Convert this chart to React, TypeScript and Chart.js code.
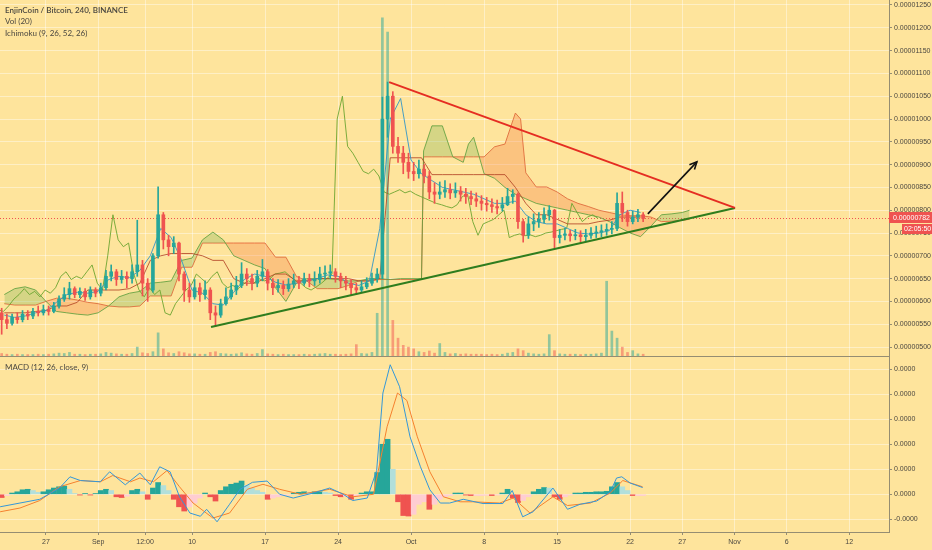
import React, { useEffect, useRef } from 'react';
import { Chart, registerables } from 'chart.js';

Chart.register(...registerables);

// ---------------- data (prices in units of 1e-8 BTC, x in days from Aug 27) ----------------
const candleStartDay = -4.25;
const candleStepDays = 0.5;
const firstOpen = 575;

const closes = [
  560, 552, 565, 560, 572, 568, 578, 575, 582, 578,
  590, 605, 615, 628, 615, 622, 610, 625, 618, 630,
  655, 665, 648, 655, 650, 665, 680, 640, 625, 700,
  790, 735, 720, 728, 660, 625, 610, 630, 615, 625,
  575, 570, 595, 610, 625, 635, 660, 650, 640, 655,
  665, 640, 630, 635, 628, 638, 645, 640, 650, 645,
  648, 660, 662, 665, 655, 645, 640, 630, 625, 632,
  640, 650, 660, 1000, 1050, 940, 925, 905, 885, 880,
  890, 875, 840, 835, 840, 845, 838, 842, 835, 830,
  825, 820, 815, 812, 808, 805, 812, 830, 835, 775,
  745, 770, 775, 780, 790, 800, 740, 745, 748, 744,
  746, 742, 745, 750, 752, 755, 758, 760, 815, 795,
  775, 785, 790, 782,
];

const highs = [
  585, 572, 572, 575, 580, 580, 585, 590, 592, 590,
  598, 612, 630, 642, 632, 630, 628, 632, 630, 640,
  668, 680, 670, 668, 665, 680, 778, 690, 650, 705,
  851, 795, 745, 742, 730, 665, 640, 648, 640, 645,
  630, 590, 605, 630, 640, 655, 685, 672, 660, 668,
  692, 670, 650, 648, 645, 650, 660, 655, 662, 660,
  665, 675, 678, 680, 672, 662, 655, 648, 640, 645,
  652, 662, 672, 1048, 1081, 1060, 960, 940, 925, 905,
  910, 900, 885, 860, 862, 865, 858, 860, 852, 848,
  842, 838, 832, 828, 825, 822, 828, 848, 845, 838,
  780, 785, 792, 795, 805, 810, 802, 758, 760, 756,
  758, 755, 758, 762, 765, 768, 770, 775, 838, 840,
  800, 798, 802, 795,
];

const lows = [
  528, 540, 548, 552, 555, 560, 562, 568, 570, 570,
  575, 585, 600, 605, 608, 608, 602, 605, 610, 612,
  625, 645, 635, 640, 630, 640, 655, 612, 600, 620,
  695, 715, 700, 705, 645, 600, 598, 605, 600, 605,
  560, 545, 565, 592, 605, 615, 630, 635, 625, 632,
  645, 625, 615, 620, 615, 622, 630, 628, 635, 632,
  635, 640, 648, 650, 642, 630, 625, 614, 615, 620,
  628, 635, 642, 650, 960, 925, 905, 880, 870, 865,
  870, 860, 825, 815, 825, 828, 825, 828, 820, 815,
  812, 808, 800, 798, 795, 792, 798, 810, 815, 760,
  730, 738, 755, 762, 772, 778, 717, 728, 735, 732,
  735, 730, 733, 738, 740, 742, 745, 748, 755, 775,
  765, 770, 775, 775,
];

// volume, relative units (100 = full height of the price pane)
const volumes = [
  0.7, 0.5, 0.4, 0.5, 0.4, 0.4, 0.4, 0.5, 0.4, 0.5,
  0.6, 0.8, 0.7, 1.0, 0.5, 0.5, 0.4, 0.5, 0.5, 0.6,
  1.0, 0.8, 0.6, 0.5, 0.5, 0.7, 2.5, 0.9, 0.7, 1.2,
  6.5, 2.0, 0.9, 0.7, 1.2, 0.9, 0.6, 0.6, 0.5, 0.5,
  1.0, 1.2, 0.7, 0.6, 0.5, 0.6, 0.9, 0.6, 0.5, 0.7,
  1.8, 0.6, 0.5, 0.4, 0.5, 0.4, 0.4, 0.4, 0.5, 0.4,
  0.5, 0.6, 0.7, 0.5, 0.5, 0.4, 0.5, 0.6, 3.2, 0.7,
  0.6, 1.0, 12, 95, 91, 10, 5, 3, 2.5, 2,
  1.2, 1.0, 1.4, 0.8, 3.5, 1.0, 0.6, 0.7, 0.5, 0.6,
  0.5, 0.5, 0.5, 0.4, 0.5, 0.4, 0.5, 0.8, 1.0, 2.0,
  1.5, 0.8, 0.6, 0.5, 0.6, 6.0, 1.5, 0.6, 0.5, 0.5,
  0.5, 0.4, 0.5, 0.5, 0.6, 0.8, 21, 7, 5, 2.5,
  1.0, 1.5, 0.6, 0.5,
];

// MACD histogram, one value per candle (units of 1e-8)
const macdHist = [
  -0.13, -0.05, 0.05, 0.1, 0.18, 0.2, 0.15, 0.08, 0.1, 0.18,
  0.25, 0.3, 0.33, 0.2, 0.03, -0.03, 0.03, -0.03, 0.03, 0.15,
  0.2, 0.15, -0.1, -0.13, -0.08, 0.15, 0.2, 0.1, -0.2, 0.25,
  0.47, 0.35, 0.15, -0.2, -0.5, -0.67, -0.5, -0.35, -0.15, 0.05,
  -0.1, -0.27, 0.15, 0.3, 0.4, 0.45, 0.53, 0.35, 0.25, 0.15,
  0.08, -0.2, -0.15, -0.1, -0.05, -0.03, 0.05, 0.08, 0.1, 0.08,
  0.1, 0.1, 0.08, 0.05, -0.05, -0.1, -0.08, -0.2, -0.1, 0.05,
  0.1, 0.1, 0.87, 2.0, 2.2, 1.0, -0.3, -0.85, -0.87, -0.8,
  -0.4, -0.3, -0.6, -0.4, -0.2, -0.1, -0.05, 0.05, 0.05, -0.03,
  -0.05, -0.05, -0.05, -0.04, -0.05, -0.03, 0.05, 0.2, -0.15, -0.33,
  -0.25, -0.1, 0.1, 0.2, 0.27, 0.25, -0.1, -0.2, -0.1, -0.03,
  0.05, 0.05, 0.08, 0.08, 0.1, 0.1, 0.12, 0.3, 0.47, 0.3,
  0.15, -0.05, -0.05, -0.05,
];

// Ichimoku conversion / base lines, daily readings
const lineDays = [
  -4, -3, -2, -1, 0, 1, 2, 3, 4, 5, 6, 7, 8, 9, 10, 11, 12, 13, 14, 15, 16, 17, 18, 19, 20,
  21, 22, 23, 24, 25, 26, 27, 28, 29, 30, 31, 32, 33, 34, 35, 36, 37, 38, 39, 40,
  41, 42, 43, 44, 45, 46, 47, 48, 49, 50, 51, 52, 53, 54, 55, 56, 57,
];
const tenkan = [
  570, 565, 568, 575, 580, 598, 615, 620, 618, 622, 648, 655, 652, 668, 700, 760, 740, 690, 625, 618, 595, 592, 620, 648, 660,
  655, 642, 636, 640, 645, 650, 658, 655, 640, 635, 645, 760, 1000, 1045, 910, 880, 865, 850, 845, 840,
  835, 825, 815, 815, 820, 790, 775, 770, 770, 760, 750, 748, 750, 755, 790, 800, 795,
];
const kijun = [
  575, 575, 575, 578, 580, 590, 590, 598, 625, 625, 625, 625, 628, 640, 690, 700, 705, 705, 705, 700, 690, 690, 650, 640, 640,
  650, 660, 660, 645, 645, 650, 650, 650, 650, 645, 645, 650, 915, 915, 915, 915, 878, 878, 878, 878,
  878, 878, 878, 878, 850, 815, 790, 790, 780, 770, 770, 770, 775, 778, 785, 785, 785,
];

// Ichimoku cloud (leading spans, already displaced forward)
const cloudDays = [
  -4, -3, -2, -1, 0, 1, 2, 3, 4, 5, 6, 7, 8, 9, 10, 11, 12, 13, 14, 15, 16, 17, 18, 19, 20,
  21, 22, 23, 24, 25, 26, 27, 28, 29, 30, 31, 32, 33, 34, 35, 36,
  36.2, 37, 38, 39, 40, 40.5, 41, 42, 43, 44, 45, 45.5,
  46, 47, 48, 49, 50, 51, 52, 53, 54, 55, 56, 57, 58, 59, 60, 61, 61.7,
];
const spanA = [
  615, 628, 632, 625, 600, 578, 575, 572, 570, 575, 590, 610, 618, 622, 640, 642, 645, 690, 695, 735, 752, 735, 700, 690, 680,
  672, 630, 600, 640, 650, 650, 650, 648, 645, 645, 650, 650, 648, 650, 650, 650,
  930, 985, 985, 917, 905, 945, 960, 880, 870, 850, 835, 830,
  825, 815, 810, 805, 800, 795, 790, 785, 775, 762, 750, 742, 765, 790, 792, 795, 800,
];
const spanB = [
  595, 592, 592, 592, 600, 607, 607, 603, 598, 595, 590, 588, 588, 590, 612, 612, 612, 675, 675, 728, 728, 728, 728, 728, 728,
  728, 697, 697, 655, 645, 628, 628, 628, 635, 645, 645, 648, 648, 648, 648, 648,
  917, 917, 917, 917, 917, 917, 917, 917, 939, 945, 1013, 1000,
  882, 851, 851, 840, 825, 815, 808, 800, 795, 790, 788, 788, 785, 775, 776, 778, 780,
];

// MACD and signal line readings
const macdDays = [
  -4.4, -2.5, -0.6, 1.3, 2.3, 3.3, 5.2, 6.1, 7.6, 9.0, 10.0, 10.9, 11.9, 12.8, 13.8, 14.8, 15.4, 16.4, 17.6, 18.6,
  19.8, 21.2, 22.4, 23.7, 25.6, 27.2, 28.5, 29.4, 30.8, 31.7, 32.3, 33.0, 33.9, 34.9, 35.9, 36.8, 37.8, 38.7, 40.0,
  41.9, 43.8, 44.7, 45.7, 46.7, 48.6, 50.0, 51.2, 52.8, 54.1, 54.7, 55.2, 56.0, 57.2,
];
const macdLine = [
  -0.5, -0.35, -0.2, 0.25, 0.7, 0.55, 0.5, 0.9, 0.38, 0.85, 0.38, 1.1, 0.9, -0.1, -0.75, -0.88, -0.6, -1.1, -0.4, 0.2,
  0.48, 0.53, 0, -0.15, 0.05, 0.25, 0, -0.25, -0.15, 0.95, 4.05, 5.18, 4.3, 2.3, 1.1, 0.18, -0.35, -0.35, -0.2,
  -0.37, -0.37, 0.15, -0.9, -0.7, 0.25, -0.6, -0.4, -0.27, 0.1, 0.65, 0.7, 0.45, 0.27,
];
const signalDays = [
  -4.4, -2.5, -0.6, 1.3, 3.3, 5.2, 6.4, 8.1, 9.0, 10.3, 11.6, 12.8, 14.1, 16.0, 17.6, 19.3, 20.8, 22.4, 24.4, 27.2,
  29.4, 31.4, 32.7, 33.7, 34.6, 35.6, 36.8, 38.1, 39.7, 40.9, 43.5, 44.8, 46.4, 48.6, 50.0, 52.2, 54.1, 55.3, 57.2,
];
const signalLine = [
  -0.7, -0.55, -0.25, 0.3, 0.55, 0.5, 0.75, 0.5, 0.65, 0.5, 0.95, 0.3, -0.35, -0.95, -0.75, 0.2, 0.4, 0.2, 0, 0.2,
  -0.1, 0, 2.7, 4.05, 3.75, 2.3, 0.9, -0.1, -0.3, -0.3, -0.35, -0.15, -0.75, -0.1, -0.45, -0.35, 0.05, 0.55, 0.3,
];

// drawn trend lines (day, price)
const supportDays = [15.82, 66.06];
const supportPrices = [544, 805];
const resistanceDays = [32.9, 66.06];
const resistancePrices = [1081, 805];
const arrowDays = [57.7, 62.4];
const arrowPrices = [792, 906];

// axes
const xTickDays = [0, 5, 9.5, 14, 21, 28, 35, 42, 49, 56, 61, 66, 71, 77];
const xTickLabels = ['27', 'Sep', '12:00', '10', '17', '24', 'Oct', '8', '15', '22', '27', 'Nov', '6', '12'];
const priceTicks = [500, 550, 600, 650, 700, 750, 800, 850, 900, 950, 1000, 1050, 1100, 1150, 1200, 1250];
const macdTicks = [-1, 0, 1, 2, 3, 4, 5];
const macdTickLabels = ['-0.0000', '0.0000', '0.0000', '0.0000', '0.0000', '0.0000', '0.0000'];

const lastPrice = 782;
const countdown = '02:05:50';
const titleMain = 'EnjinCoin / Bitcoin, 240, BINANCE';
const titleVol = 'Vol (20)';
const titleIchi = 'Ichimoku (9, 26, 52, 26)';
const titleMacd = 'MACD (12, 26, close, 9)';

// ---------------- styling ----------------
const BG = '#fee49c';
const GRID = 'rgba(255,255,255,0.42)';
const AXIS = '#958d72';
const TEXT = '#4a4740';
const UP = '#26a69a';
const DOWN = '#ef5350';
const X_MIN = -4.41;
const X_MAX = 80.82;
const AXIS_W = 43;
const LABEL_FONT = '7px "Liberation Sans", Arial, sans-serif';

const fmtPrice = (v: number) => '0.0000' + String(v).padStart(4, '0');

const candleX = closes.map((_, i) => candleStartDay + i * candleStepDays);
const opens = closes.map((_, i) => (i === 0 ? firstOpen : closes[i - 1]));
const isUp = closes.map((c, i) => c >= opens[i]);

function xScaleCommon(extra: any) {
  return {
    type: 'linear',
    min: X_MIN,
    max: X_MAX,
    offset: false,
    afterBuildTicks: (s: any) => {
      s.ticks = xTickDays.map((v) => ({ value: v }));
    },
    ticks: { display: false },
    grid: { color: GRID, lineWidth: 1, offset: false },
    ...extra,
  };
}

function pts(xs: number[], ys: number[]) {
  return xs.map((x, i) => ({ x, y: ys[i] }));
}

function lineDs(data: any[], color: string, width: number, order: number, extra: any = {}) {
  return {
    type: 'line',
    data,
    borderColor: color,
    borderWidth: width,
    pointRadius: 0,
    tension: 0,
    fill: false,
    order,
    yAxisID: 'y',
    ...extra,
  };
}

const ARROW_INDEX = 10;

const mainPlugin = {
  id: 'mainDecor',
  beforeDatasetsDraw(chart: any) {
    const { ctx, chartArea, scales } = chart;
    const y = Math.round(scales.y.getPixelForValue(lastPrice)) + 0.5;
    ctx.save();
    ctx.strokeStyle = DOWN;
    ctx.lineWidth = 1;
    ctx.setLineDash([1, 2]);
    ctx.beginPath();
    ctx.moveTo(chartArea.left, y);
    ctx.lineTo(chartArea.right, y);
    ctx.stroke();
    ctx.restore();
  },
  afterDraw(chart: any) {
    const { ctx, chartArea, scales } = chart;
    ctx.save();
    ctx.font = LABEL_FONT;
    ctx.fillStyle = TEXT;
    ctx.textAlign = 'left';
    ctx.textBaseline = 'middle';
    priceTicks.forEach((v) => {
      ctx.fillText(fmtPrice(v), chartArea.right + 5, scales.y.getPixelForValue(v));
    });
    ctx.font = '600 8px Lato, "Open Sans", sans-serif';
    ctx.fillText(titleMain, 5, 10);
    ctx.font = '8px Lato, "Open Sans", sans-serif';
    ctx.fillText(titleVol, 5, 21.5);
    ctx.fillText(titleIchi, 5, 33);
    const meta = chart.getDatasetMeta(ARROW_INDEX);
    if (meta && meta.data.length >= 2) {
      const a = meta.data[0];
      const b = meta.data[1];
      const ang = Math.atan2(b.y - a.y, b.x - a.x);
      const L = 8;
      ctx.strokeStyle = '#111';
      ctx.lineWidth = 1.6;
      ctx.beginPath();
      ctx.moveTo(b.x - L * Math.cos(ang - 0.45), b.y - L * Math.sin(ang - 0.45));
      ctx.lineTo(b.x, b.y);
      ctx.lineTo(b.x - L * Math.cos(ang + 0.45), b.y - L * Math.sin(ang + 0.45));
      ctx.stroke();
    }
    const y = scales.y.getPixelForValue(lastPrice);
    ctx.fillStyle = DOWN;
    ctx.fillRect(chartArea.right, Math.round(y) - 6, AXIS_W, 11);
    ctx.fillRect(chartArea.right + 13, Math.round(y) + 6, AXIS_W - 13, 10);
    ctx.fillStyle = '#ffffff';
    ctx.font = LABEL_FONT;
    ctx.fillText(fmtPrice(lastPrice), chartArea.right + 4, Math.round(y));
    ctx.fillText(countdown, chartArea.right + 15, Math.round(y) + 11.5);
    ctx.restore();
  },
};

const macdPlugin = {
  id: 'macdDecor',
  afterDraw(chart: any) {
    const { ctx, chartArea, scales } = chart;
    ctx.save();
    ctx.font = LABEL_FONT;
    ctx.fillStyle = TEXT;
    ctx.textBaseline = 'middle';
    ctx.textAlign = 'left';
    macdTicks.forEach((v, i) => {
      ctx.fillText(macdTickLabels[i], chartArea.right + 5, scales.y.getPixelForValue(v));
    });
    ctx.textAlign = 'center';
    xTickDays.forEach((d, i) => {
      ctx.fillText(xTickLabels[i], scales.x.getPixelForValue(d), chartArea.bottom + 10);
    });
    ctx.textAlign = 'left';
    ctx.font = '8px Lato, "Open Sans", sans-serif';
    ctx.fillText(titleMacd, 5, 10);
    ctx.restore();
  },
};

function mainConfig(): any {
  const volColors = isUp.map((u) => (u ? 'rgba(38,166,154,0.5)' : 'rgba(239,83,80,0.5)'));
  const candleColors = isUp.map((u) => (u ? UP : DOWN));
  const datasets: any[] = [
    {
      type: 'bar',
      data: candleX.map((x, i) => ({ x, y: volumes[i] })),
      backgroundColor: volColors,
      barThickness: 2,
      grouped: false,
      yAxisID: 'yVol',
      order: 20,
    },
    lineDs(pts(cloudDays, spanB), 'rgba(226,96,56,0.85)', 1, 15),
    lineDs(pts(cloudDays, spanA), 'rgba(96,160,64,0.85)', 1, 14, {
      fill: { target: 1, above: 'rgba(120,180,80,0.3)', below: 'rgba(245,120,60,0.3)' },
    }),
    lineDs(candleX.map((x, i) => ({ x: x - 26 / 6, y: closes[i] })), 'rgba(110,165,50,0.9)', 1, 12),
    lineDs(pts(lineDays, kijun), 'rgba(180,70,40,0.85)', 1, 11),
    lineDs(pts(lineDays, tenkan), 'rgba(50,150,200,0.9)', 1, 10),
    {
      type: 'bar',
      data: candleX.map((x, i) => ({ x, y: [lows[i], highs[i]] })),
      backgroundColor: candleColors,
      barThickness: 1,
      grouped: false,
      yAxisID: 'y',
      order: 6,
    },
    {
      type: 'bar',
      data: candleX.map((x, i) => ({ x, y: [opens[i], closes[i]] })),
      backgroundColor: candleColors,
      barThickness: 3,
      minBarLength: 1,
      grouped: false,
      yAxisID: 'y',
      order: 5,
    },
    lineDs(pts(supportDays, supportPrices), '#2f7d1e', 2, 3),
    lineDs(pts(resistanceDays, resistancePrices), '#e52d22', 2, 2),
    lineDs(pts(arrowDays, arrowPrices), '#111111', 1.6, 1),
  ];
  return {
    type: 'line',
    data: { datasets },
    options: {
      responsive: false,
      animation: false,
      events: [],
      layout: { padding: 0 },
      plugins: { legend: { display: false }, tooltip: { enabled: false } },
      scales: {
        x: xScaleCommon({
          grid: { color: GRID, lineWidth: 1, offset: false, drawTicks: false },
          border: { display: true, color: AXIS, width: 1 },
          afterFit: (s: any) => {
            s.height = 1;
          },
        }),
        y: {
          type: 'linear',
          position: 'right',
          min: 480.3,
          max: 1260.96,
          afterBuildTicks: (s: any) => {
            s.ticks = priceTicks.map((v) => ({ value: v }));
          },
          ticks: { display: false },
          grid: { color: GRID, lineWidth: 1, drawTicks: true, tickLength: 3, tickColor: AXIS },
          border: { display: true, color: AXIS, width: 1 },
          afterFit: (s: any) => {
            s.width = AXIS_W;
          },
        },
        yVol: {
          type: 'linear',
          display: false,
          min: 0,
          max: 100,
        },
      },
    },
    plugins: [mainPlugin],
  };
}

function macdConfig(): any {
  const histColors = macdHist.map((h, i) => {
    const prev = i > 0 ? macdHist[i - 1] : 0;
    if (h >= 0) return h >= prev ? '#26a69a' : '#b2dfdb';
    return h < prev ? '#ef5350' : '#ffcdd2';
  });
  const datasets: any[] = [
    {
      type: 'bar',
      data: candleX.map((x, i) => ({ x, y: macdHist[i] })),
      backgroundColor: histColors,
      barThickness: 5,
      grouped: false,
      order: 5,
    },
    lineDs(pts(signalDays, signalLine), '#f5802e', 1, 2),
    lineDs(pts(macdDays, macdLine), '#3497d8', 1, 1),
  ];
  return {
    type: 'line',
    data: { datasets },
    options: {
      responsive: false,
      animation: false,
      events: [],
      layout: { padding: 0 },
      plugins: { legend: { display: false }, tooltip: { enabled: false } },
      scales: {
        x: xScaleCommon({
          grid: { color: GRID, lineWidth: 1, offset: false, drawTicks: true, tickLength: 3, tickColor: AXIS },
          border: { display: true, color: AXIS, width: 1 },
          afterFit: (s: any) => {
            s.height = 18;
          },
        }),
        y: {
          type: 'linear',
          position: 'right',
          min: -1.508,
          max: 5.49,
          afterBuildTicks: (s: any) => {
            s.ticks = macdTicks.map((v) => ({ value: v }));
          },
          ticks: { display: false },
          grid: { color: GRID, lineWidth: 1, drawTicks: true, tickLength: 3, tickColor: AXIS },
          border: { display: true, color: AXIS, width: 1 },
          afterFit: (s: any) => {
            s.width = AXIS_W;
          },
        },
      },
    },
    plugins: [macdPlugin],
  };
}

export default function App() {
  const mainRef = useRef<HTMLCanvasElement | null>(null);
  const macdRef = useRef<HTMLCanvasElement | null>(null);

  useEffect(() => {
    const c1 = new Chart(mainRef.current as HTMLCanvasElement, mainConfig());
    const c2 = new Chart(macdRef.current as HTMLCanvasElement, macdConfig());
    return () => {
      c1.destroy();
      c2.destroy();
    };
  }, []);

  return (
    <div
      style={{
        position: 'absolute',
        left: 0,
        top: 0,
        width: 932,
        height: 550,
        background: BG,
        overflow: 'hidden',
      }}
    >
      <canvas ref={mainRef} width={932} height={357} style={{ position: 'absolute', left: 0, top: 0 }} />
      <canvas ref={macdRef} width={932} height={193} style={{ position: 'absolute', left: 0, top: 357 }} />
    </div>
  );
}
